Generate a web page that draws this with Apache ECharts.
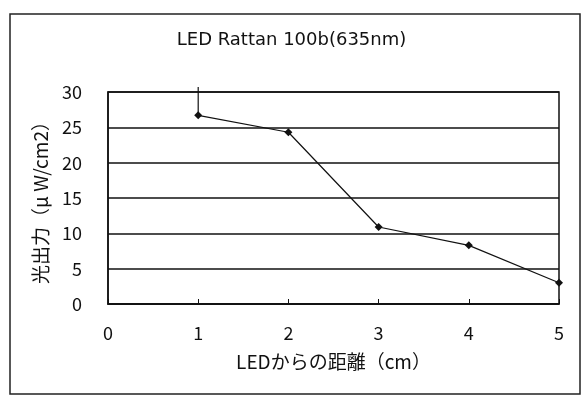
<!DOCTYPE html>
<html>
<head>
<meta charset="utf-8">
<script src="https://cdn.jsdelivr.net/npm/echarts@6/dist/echarts.min.js"></script>
<style>
html, body { margin: 0; padding: 0; background: #fff; }
#chart { width: 583px; height: 396px; }
</style>
</head>
<body>
<div id="chart"></div>
<script>
// 距離 (cm) と 光出力 (μW/cm2)
var distances = [1, 2, 3, 4, 5];
var outputs = [26.7, 24.3, 10.9, 8.3, 3.0];
// 1cm の点から上に伸びる縦線
var spikeX = 1;
var spikeTop = 30.7;
var xTicks = [0, 1, 2, 3, 4, 5];
var yTicks = [0, 5, 10, 15, 20, 25, 30];

var fontJp = '"Noto Sans CJK JP", sans-serif';

function initChart(){
    var myChart = echarts.init(document.getElementById('chart'));
    var points = distances.map(function(d, i){ return [d, outputs[i]]; });
    var option = {
        backgroundColor: '#fff',
        animation: false,
        title: {
            text: 'LED Rattan 100b(635nm)',
            left: 'center',
            top: 26,
            textStyle: { fontFamily: '"DejaVu Sans", sans-serif', fontSize: 18, fontWeight: 'normal', color: '#111' }
        },
        graphic: [
            {
                type: 'rect',
                shape: { x: 10, y: 14, width: 570, height: 380 },
                style: { fill: null, stroke: '#222', lineWidth: 1.5 },
                z: -1
            }
        ],
        grid: {
            left: 108, right: 24, top: 92, bottom: 92,
            show: true, borderColor: '#111', borderWidth: 1.5, backgroundColor: '#fff'
        },
        xAxis: {
            type: 'value',
            min: xTicks[0], max: xTicks[xTicks.length - 1], interval: 1,
            name: 'LEDからの距離（cm）',
            nameLocation: 'middle',
            nameGap: 48,
            nameTextStyle: { fontFamily: fontJp, fontSize: 19, color: '#111' },
            axisLine: { lineStyle: { color: '#111', width: 1.5 } },
            axisTick: { inside: true, length: 5, lineStyle: { color: '#111' } },
            axisLabel: { margin: 20, fontFamily: fontJp, fontSize: 18, color: '#111' },
            splitLine: { show: false }
        },
        yAxis: {
            type: 'value',
            min: yTicks[0], max: yTicks[yTicks.length - 1], interval: 5,
            name: '光出力（μ W/cm2）',
            nameLocation: 'middle',
            nameGap: 58,
            nameTextStyle: { fontFamily: fontJp, fontSize: 19, color: '#111' },
            axisLine: { show: true, lineStyle: { color: '#111', width: 1.5 } },
            axisTick: { show: false },
            axisLabel: { margin: 26, fontFamily: fontJp, fontSize: 18, color: '#111' },
            splitLine: { lineStyle: { color: '#111', width: 1.5 } }
        },
        series: [
            {
                type: 'line',
                data: points,
                symbol: 'diamond',
                symbolSize: 8,
                itemStyle: { color: '#111' },
                lineStyle: { color: '#111', width: 1.2 },
                clip: false
            },
            {
                type: 'line',
                data: [[spikeX, outputs[0]], [spikeX, spikeTop]],
                symbol: 'none',
                lineStyle: { color: '#111', width: 1.2 },
                clip: false
            }
        ]
    };
    myChart.setOption(option);
}
initChart();
</script>
</body>
</html>
